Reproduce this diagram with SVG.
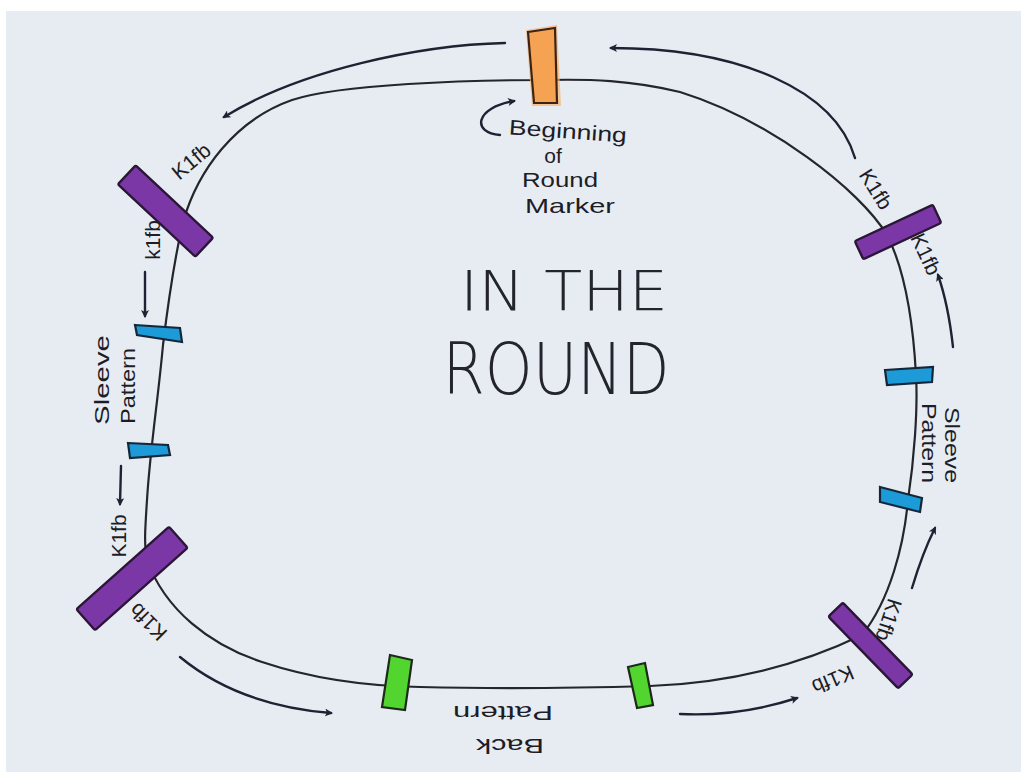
<svg xmlns="http://www.w3.org/2000/svg" width="1021" height="772" viewBox="0 0 1021 772">
<defs>
<style>
.loop{fill:none;stroke:#25252c;stroke-width:2.2;stroke-linecap:round}
.arr{fill:none;stroke:#1f2232;stroke-width:2.4;stroke-linecap:round;marker-end:url(#ah)}
.pur{fill:#7c37a6;stroke:#2b1638;stroke-width:2.4}
.blu{fill:#1c9bd8;stroke:#14273a;stroke-width:2.2}
.grn{fill:#52d52e;stroke:#1d2a1a;stroke-width:2.2}
.lbl{font-family:"Liberation Sans","DejaVu Sans",sans-serif;font-size:21px;fill:#1c1d26;text-anchor:middle;dominant-baseline:central}
.big{font-family:"DejaVu Sans","Liberation Sans",sans-serif;font-weight:200;fill:#23242c;text-anchor:middle;dominant-baseline:central}
</style>
<marker id="ah" viewBox="0 0 12 12" refX="9" refY="6" markerWidth="8" markerHeight="8" orient="auto" markerUnits="userSpaceOnUse">
<path d="M0,0 L12,6 L0,12 L3,6 Z" fill="#1f2232"/>
</marker>
</defs>
<rect width="1021" height="772" fill="#ffffff"/>
<rect x="6" y="11" width="1015" height="761" fill="#e7ecf3"/>

<g id="loop">
<path class="loop" d="M 545 80 C 470 80, 340 84, 292 100 C 235 120, 198 170, 183 222 C 172 270, 166 320, 163 345 C 158 400, 150 450, 147 500 C 145 530, 144 545, 147 560 C 165 610, 210 645, 262 662 C 310 678, 360 686, 420 687 C 500 689, 580 688, 650 686 C 730 683, 800 665, 862 635 C 890 600, 904 545, 908 500 C 914 460, 918 410, 916 375 C 913 320, 905 270, 887 235 C 860 190, 770 120, 680 92 C 630 80, 590 79, 545 80 Z"/>
</g>

<g id="connectors">
<path class="arr" d="M 505 43 C 420 45, 300 70, 224 117"/>
<path class="arr" d="M 855 158 C 835 90, 740 48, 611 48"/>
<path class="arr" d="M 500 135 C 472 133, 474 108, 514 101"/>
<path class="arr" d="M 145 272 L 145 316"/>
<path class="arr" d="M 121 466 L 120 504"/>
<path class="arr" d="M 180 657 C 220 690, 270 708, 331 713"/>
<path class="arr" d="M 680 714 C 720 716, 760 710, 797 698"/>
<path class="arr" d="M 912 588 C 918 568, 925 548, 935 528"/>
<path class="arr" d="M 953 347 C 950 320, 945 295, 938 275"/>
</g>

<g id="marker-begin">
<polygon points="526,30 557,25 561,106 532,106" fill="#f9b06a" opacity="0.7"/>
<polygon points="528,32 555,28 557,103 534,103" fill="#f5a253" stroke="#3a2418" stroke-width="2.2"/>
<text class="lbl" x="568" y="131" font-size="23" textLength="118" lengthAdjust="spacingAndGlyphs" transform="rotate(4 568 131)">Beginning</text>
<text class="lbl" x="553" y="155" font-size="23">of</text>
<text class="lbl" x="560" y="179" font-size="23" textLength="76" lengthAdjust="spacingAndGlyphs">Round</text>
<text class="lbl" x="570" y="205" font-size="23" textLength="90" lengthAdjust="spacingAndGlyphs">Marker</text>
</g>

<g id="title">
<text class="big" x="564" y="290" font-size="56" textLength="208" lengthAdjust="spacingAndGlyphs">IN THE</text>
<text class="big" x="556" y="369" font-size="72" textLength="227" lengthAdjust="spacingAndGlyphs">ROUND</text>
</g>

<g id="kfb-top-left">
<rect class="pur" x="-53" y="-13" width="106" height="26" rx="2" transform="translate(165.5 211) rotate(43)"/>
<text class="lbl" x="0" y="0" transform="translate(191 161) rotate(-40)">K1fb</text>
<text class="lbl" x="0" y="0" transform="translate(152 240) rotate(-90)">k1fb</text>
</g>

<g id="sleeve-left">
<polygon class="blu" points="135,325 180,328 182,342 137,335"/>
<polygon class="blu" points="128,443 168,445 170,455 130,458"/>
<text class="lbl" x="0" y="0" font-size="23" textLength="90" lengthAdjust="spacingAndGlyphs" transform="translate(101 380) rotate(-90)">Sleeve</text>
<text class="lbl" x="0" y="0" font-size="21" textLength="76" lengthAdjust="spacingAndGlyphs" transform="translate(127 386) rotate(-90)">Pattern</text>
</g>

<g id="kfb-bottom-left">
<rect class="pur" x="-62" y="-14" width="124" height="28" rx="2" transform="translate(132 578.5) rotate(-41.7)"/>
<text class="lbl" x="0" y="0" transform="translate(118 536) rotate(-90)">K1fb</text>
<text class="lbl" x="0" y="0" transform="translate(148 622) rotate(225)">K1fb</text>
</g>

<g id="back-pattern">
<polygon class="grn" points="390,655 412,660 405,710 382,707"/>
<polygon class="grn" points="628,667 645,663 653,705 637,708"/>
<text class="lbl" x="0" y="0" font-size="23" textLength="100" lengthAdjust="spacingAndGlyphs" transform="translate(503 713) rotate(180)">Pattern</text>
<text class="lbl" x="0" y="0" font-size="25" textLength="68" lengthAdjust="spacingAndGlyphs" transform="translate(510 746) rotate(180)">Back</text>
</g>

<g id="kfb-bottom-right">
<rect class="pur" x="-50" y="-10" width="100" height="20" rx="2" transform="translate(870.5 645.5) rotate(45.8)"/>
<text class="lbl" x="0" y="0" transform="translate(833 680) rotate(157)">K1fb</text>
<text class="lbl" x="0" y="0" transform="translate(889 620) rotate(108)">K1fb</text>
</g>

<g id="sleeve-right">
<polygon class="blu" points="885,370 933,367 932,382 887,385"/>
<polygon class="blu" points="880,487 922,498 920,512 880,502"/>
<text class="lbl" x="0" y="0" font-size="22" textLength="76" lengthAdjust="spacingAndGlyphs" transform="translate(952 445) rotate(90)">Sleeve</text>
<text class="lbl" x="0" y="0" font-size="21" textLength="80" lengthAdjust="spacingAndGlyphs" transform="translate(929 443) rotate(90)">Pattern</text>
</g>

<g id="kfb-top-right">
<rect class="pur" x="-43" y="-10" width="86" height="20" rx="2" transform="translate(898 232) rotate(-25)"/>
<text class="lbl" x="0" y="0" transform="translate(876 189) rotate(58)">K1fb</text>
<text class="lbl" x="0" y="0" transform="translate(926 254) rotate(65)">K1fb</text>
</g>
</svg>
